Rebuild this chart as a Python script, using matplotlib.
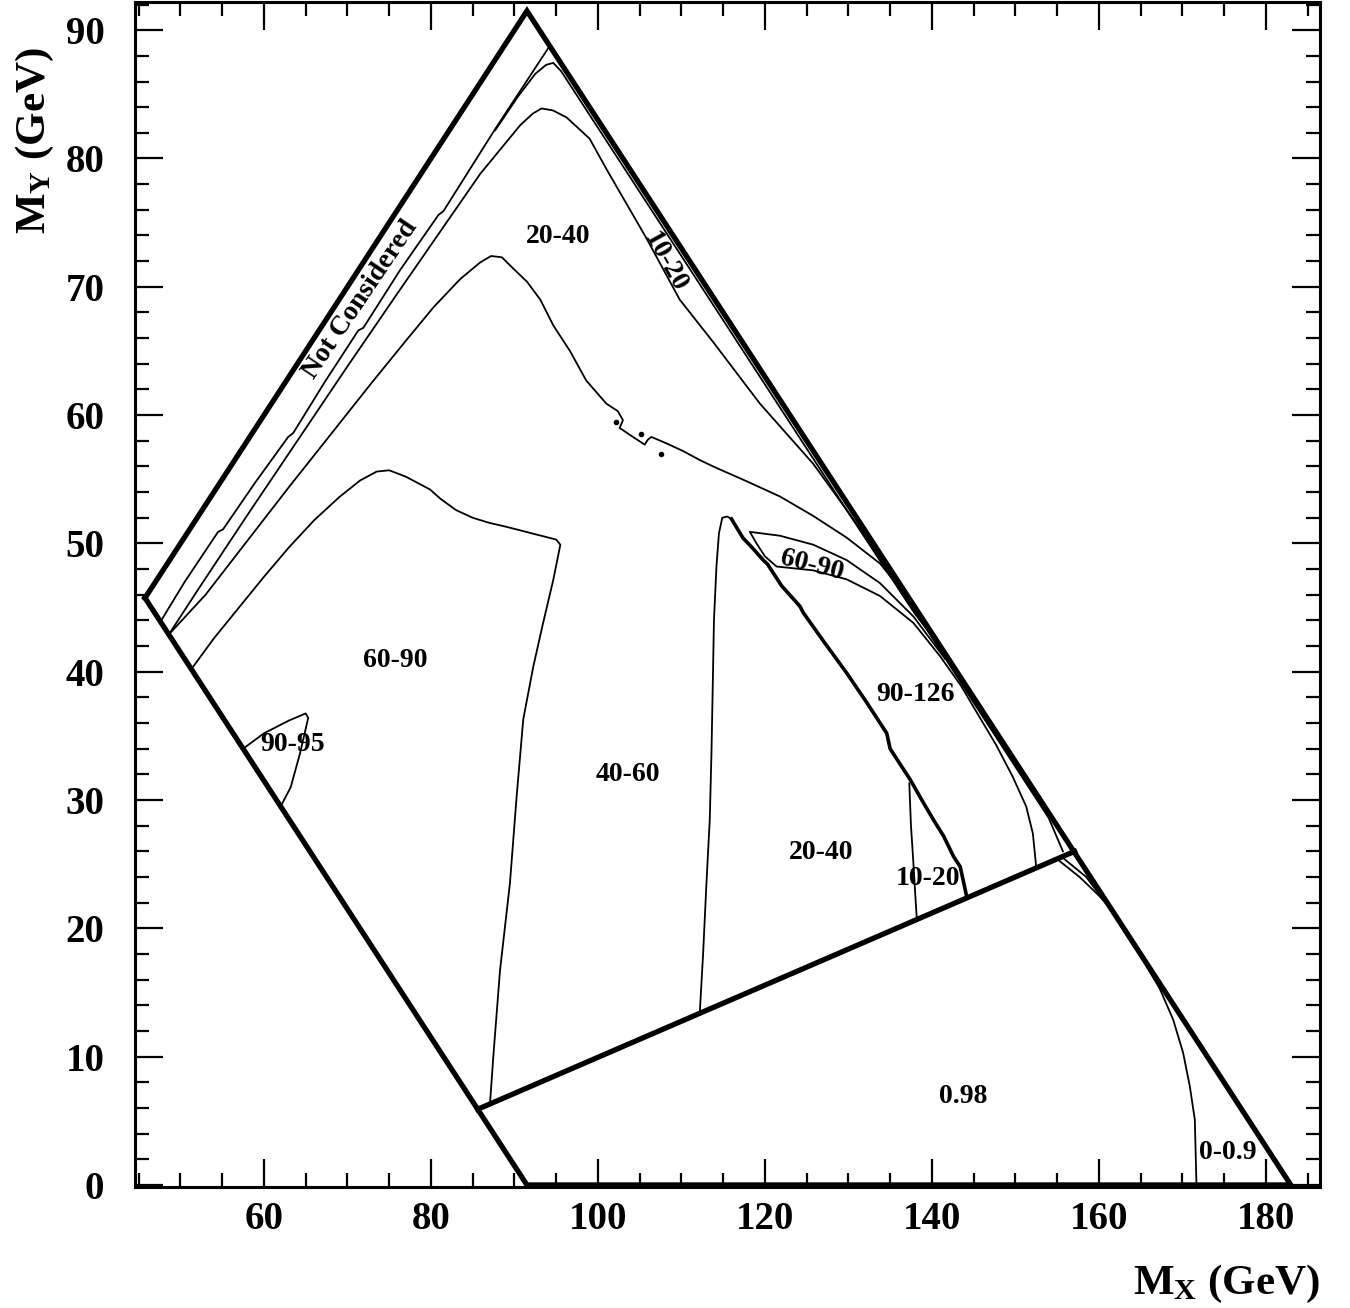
import matplotlib.pyplot as plt
from matplotlib.ticker import MultipleLocator

plt.rcParams['font.family'] = ['Liberation Serif', 'DejaVu Serif']
plt.rcParams['font.weight'] = 'bold'
plt.rcParams['mathtext.fontset'] = 'custom'
plt.rcParams['mathtext.rm'] = 'Liberation Serif:bold'
plt.rcParams['mathtext.it'] = 'Liberation Serif:bold'
plt.rcParams['mathtext.bf'] = 'Liberation Serif:bold'

# kinematic boundary (sqrt(s) = 183 GeV) and the MX/MY cut
edge_x = [45.75, 91.5, 183.0, 91.5, 45.75]
edge_y = [45.75, 91.5, 0.0, 0.0, 45.75]
cut_x = [85.6, 157.1]
cut_y = [5.9, 26.0]

# "Not Considered" boundary
a_x = [47.6, 50.5, 54.5, 55.1, 58.9, 62.9, 63.5, 67.3, 71.3, 71.9, 76.3, 80.9, 81.5, 87.7, 94.25]
a_y = [43.9, 47.0, 50.9, 51.1, 54.7, 58.3, 58.6, 62.6, 66.6, 66.8, 71.3, 75.6, 75.9, 82.3, 88.8]

# 10-20 band next to the upper edge
b_x = [87.7, 90.5, 92.5, 93.8, 94.65, 95.6, 100.0, 110.0, 120.0, 130.0, 138.0, 141.5]
b_y = [82.2, 84.9, 86.6, 87.3, 87.45, 86.8, 82.4, 72.4, 62.4, 52.4, 44.5, 41.5]

# 20-40 upper contour (peak ~84)
c_x = [48.6, 52.0, 58.0, 64.0, 70.0, 76.0, 81.0, 85.9, 88.3, 90.7, 92.2, 93.25, 94.6, 96.25,
       99.0, 101.0, 103.4, 105.8, 109.8, 113.8, 119.4, 125.8, 131.8, 137.3, 141.5]
c_y = [42.9, 46.3, 52.2, 58.0, 63.8, 69.5, 74.2, 78.8, 80.7, 82.6, 83.5, 83.9, 83.75, 83.2,
       81.55, 79.2, 76.5, 73.8, 69.0, 65.7, 60.9, 56.2, 50.8, 45.2, 41.5]

# contour with peak ~72
d_x = [48.6, 53.0, 58.0, 63.0, 68.0, 73.0, 77.0, 80.3, 83.5, 85.9, 87.2, 88.5, 89.9, 91.5,
       93.1, 94.65, 96.65, 98.6, 101.0, 102.4, 103.0, 102.6, 104.2, 105.6, 106.0, 106.4,
       108.2, 110.2, 112.2, 113.8, 117.8, 121.8, 125.8, 129.8, 133.8, 136.8, 139.3, 145.0,
       150.0, 154.0, 155.7]
d_y = [42.9, 46.0, 50.2, 54.4, 58.5, 62.6, 65.8, 68.4, 70.6, 71.9, 72.4, 72.3, 71.4, 70.4,
       69.0, 67.0, 65.0, 62.7, 60.9, 60.3, 59.6, 59.0, 58.3, 57.7, 58.1, 58.3,
       57.8, 57.2, 56.5, 56.0, 54.85, 53.66, 52.14, 50.45, 48.43, 46.0, 43.4, 37.6,
       32.6, 28.6, 26.0]
dot_x = [102.2, 105.2, 107.6]
dot_y = [59.5, 58.5, 57.0]

# 60-90 / 40-60 boundary (peak ~55)
f_x = [51.3, 54.0, 57.0, 60.0, 63.0, 66.0, 69.0, 71.5, 73.5, 75.0, 77.0, 79.9, 81.1, 83.0,
       85.0, 87.0, 89.0, 92.0, 95.0, 95.5, 94.65, 93.4, 92.26, 91.06, 90.26, 89.46, 88.27,
       87.47, 87.07]
f_y = [40.2, 42.6, 45.0, 47.4, 49.7, 51.8, 53.6, 54.9, 55.6, 55.7, 55.2, 54.2, 53.5, 52.6,
       52.0, 51.6, 51.3, 50.8, 50.3, 49.9, 47.15, 43.7, 40.4, 36.3, 30.25, 23.5, 16.7,
       10.0, 6.3]

# 40-60 / 20-40 boundary
g_x = [112.2, 112.6, 113.0, 113.4, 113.6, 113.8, 113.9, 114.2, 114.5, 114.9, 115.5, 116.0]
g_y = [13.4, 18.0, 23.5, 28.5, 33.6, 40.4, 44.0, 48.2, 50.8, 52.0, 52.1, 51.9]

# jagged step between the low and high efficiency regions
j_x = [116.0, 117.4, 118.3, 119.8, 120.3, 122.0, 124.2, 124.6, 127.0, 129.8, 132.2, 134.6,
       135.0, 137.4, 138.8, 140.2, 141.4, 142.6, 143.4, 144.2]
j_y = [51.9, 50.4, 49.8, 48.7, 48.4, 46.7, 45.1, 44.6, 42.4, 39.9, 37.6, 35.2,
       34.0, 31.6, 30.0, 28.45, 27.2, 25.6, 24.8, 22.4]

# 60-90 strip and 90-126 outer arc
e_x = [141.6, 137.8, 133.8, 129.8, 125.8, 121.8, 118.2, 119.0, 120.0, 121.4, 125.8, 129.8,
       133.8, 137.8, 141.0, 143.5, 145.5, 147.7, 149.7, 151.3, 152.1, 152.5]
e_y = [41.0, 44.3, 46.9, 48.7, 49.9, 50.6, 50.9, 50.0, 49.0, 48.2, 47.9, 47.2,
       45.9, 43.8, 41.2, 38.9, 36.7, 34.3, 31.8, 29.5, 27.4, 24.8]

# 20-40 / 10-20 boundary
h_x = [137.3, 137.5, 137.8, 138.0, 138.2]
h_y = [31.3, 28.0, 25.0, 22.8, 20.7]

# 0.98 / 0-0.9 boundary
k_x = [155.0, 157.7, 160.1, 162.1, 163.4, 165.2, 167.3, 168.9, 170.1, 170.9, 171.5, 171.7]
k_y = [25.4, 24.0, 22.5, 21.0, 19.4, 17.6, 15.3, 12.9, 10.3, 7.7, 5.1, 0.0]
l_x = [155.5, 158.5, 161.5]
l_y = [25.6, 24.0, 21.4]

# 90-95 island
t_x = [57.5, 60.0, 63.0, 65.0, 65.3, 64.3, 63.2, 62.0]
t_y = [34.0, 35.2, 36.2, 36.75, 36.4, 33.6, 31.0, 29.5]

# region labels
lab_text = ['Not Considered', '20-40', '10-20', '60-90', '90-95', '40-60', '20-40',
            '10-20', '90-126', '60-90', '0.98', '0-0.9']
lab_x = [71.5, 95.2, 108.0, 75.7, 63.4, 103.6, 126.7, 139.6, 138.0, 125.6, 143.7, 175.4]
lab_y = [69.0, 73.9, 71.9, 40.9, 34.3, 32.0, 25.9, 23.9, 38.2, 48.3, 6.9, 2.5]
lab_rot = [56, 0, -61, 0, 0, 0, 0, 0, 0, -14, 0, 0]

fig = plt.figure(figsize=(13.5, 13.08), dpi=100)
ax = fig.add_axes([0.1, 0.0925, 0.8778, 0.906])

thin = dict(color='black', lw=1.3)
for xs, ys in [(a_x, a_y), (b_x, b_y), (c_x, c_y), (d_x, d_y), (f_x, f_y), (g_x, g_y),
               (e_x, e_y), (h_x, h_y), (k_x, k_y), (l_x, l_y), (t_x, t_y)]:
    ax.plot(xs, ys, **thin)
ax.plot(j_x, j_y, color='black', lw=2.6)
ax.plot(dot_x, dot_y, 'o', color='black', ms=3)

ax.plot(edge_x, edge_y, color='black', lw=3.8, solid_joinstyle='miter')
ax.plot(cut_x, cut_y, color='black', lw=3.8)

for s, x, y, r in zip(lab_text, lab_x, lab_y, lab_rot):
    ax.text(x, y, s, fontsize=20, fontweight='bold', rotation=r,
            ha='center', va='center', rotation_mode='anchor')

ax.set_xlim(44.55, 186.5)
ax.set_ylim(-0.16, 92.2)
ax.xaxis.set_major_locator(MultipleLocator(20))
ax.xaxis.set_minor_locator(MultipleLocator(5))
ax.yaxis.set_major_locator(MultipleLocator(10))
ax.yaxis.set_minor_locator(MultipleLocator(2))
ax.tick_params(which='both', direction='in', top=True, right=True, width=1.6,
               labelsize=28)
ax.tick_params(axis='x', pad=10)
ax.tick_params(axis='y', pad=22)
ax.tick_params(which='major', length=20)
ax.tick_params(which='minor', length=10)
for sp in ax.spines.values():
    sp.set_linewidth(2.2)

ax.set_xlabel(r'M$_{\mathrm{X}}$ (GeV)', fontsize=31, fontweight='bold', loc='right',
              labelpad=18)
ax.set_ylabel(r'M$_{\mathrm{Y}}$ (GeV)', fontsize=31, fontweight='bold', loc='top')
ax.yaxis.set_label_coords(-0.067, 0.962)

fig.savefig('out.png', dpi=100)
